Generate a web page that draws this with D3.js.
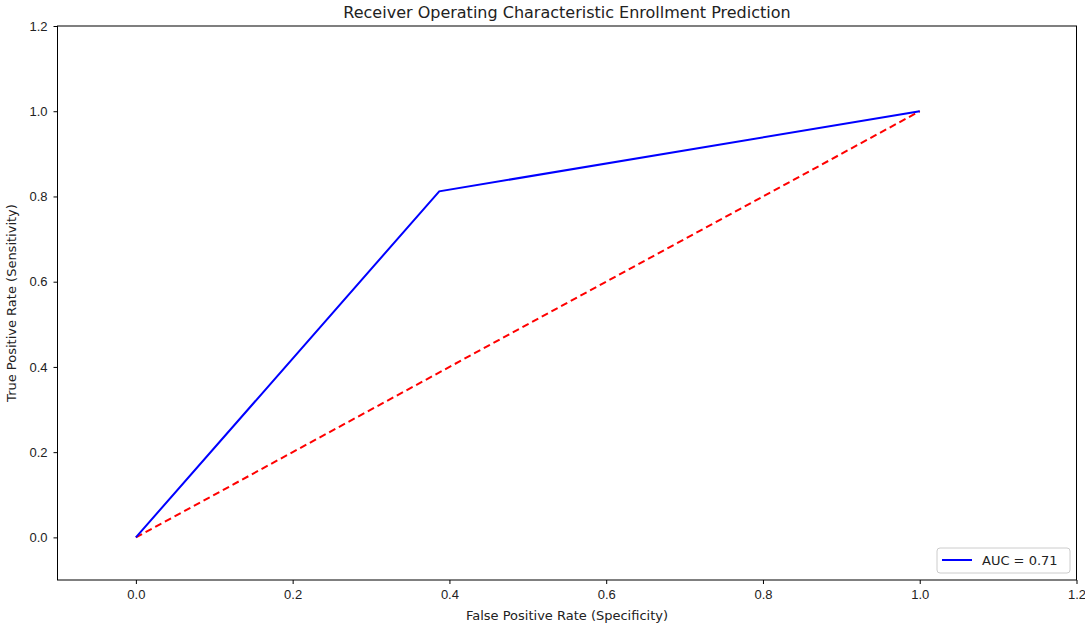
<!DOCTYPE html>
<html lang="en">
  <head>
    <meta charset="UTF-8" />
    <title>Receiver Operating Characteristic Enrollment Prediction</title>
    <script src="https://d3js.org/d3.v7.min.js"></script>
    <style>
      body {
        margin: 0;
        background: #fff;
        font-family: "DejaVu Sans", sans-serif;
      }
      .axis line {
        stroke: #000;
      }
      .axis path.domain {
        display: none;
      }
      .axis text {
        font-size: 13px;
        fill: #222;
      }
    </style>
  </head>
  <body>
    <script>
      // ROC curve points
      var fpr = [0.0, 0.387, 1.0];
      var tpr = [0.0, 0.812, 1.0];
      // chance line
      var chanceX = [0.0, 1.0];
      var chanceY = [0.0, 1.0];
      var aucLabel = "AUC = 0.71";
      var ticks = [0.0, 0.2, 0.4, 0.6, 0.8, 1.0, 1.2];

      var width = 1085,
        height = 628;
      var margin = { top: 26, right: 8.5, bottom: 48, left: 57.5 };

      var svg = d3
        .select("body")
        .append("svg")
        .attr("width", width)
        .attr("height", height);

      var x = d3
        .scaleLinear()
        .domain([-0.1, 1.2])
        .range([margin.left, width - margin.right]);
      var y = d3
        .scaleLinear()
        .domain([-0.1, 1.2])
        .range([height - margin.bottom, margin.top]);

      svg
        .append("g")
        .attr("class", "axis")
        .attr("transform", "translate(0," + (height - margin.bottom) + ")")
        .call(
          d3.axisBottom(x).tickValues(ticks).tickSizeOuter(0).tickSize(4).tickPadding(6)
            .tickFormat(d3.format(".1f"))
        );

      svg
        .append("g")
        .attr("class", "axis")
        .attr("transform", "translate(" + margin.left + ",0)")
        .call(
          d3.axisLeft(y).tickValues(ticks).tickSizeOuter(0).tickSize(4).tickPadding(6)
            .tickFormat(d3.format(".1f"))
        );

      // frame
      svg
        .append("rect")
        .attr("x", margin.left)
        .attr("y", margin.top)
        .attr("width", width - margin.left - margin.right)
        .attr("height", height - margin.top - margin.bottom)
        .attr("fill", "none")
        .attr("stroke", "#000")
        .attr("stroke-width", 1);

      var line = d3
        .line()
        .x(function (d) { return x(d[0]); })
        .y(function (d) { return y(d[1]); });

      svg
        .append("path")
        .attr("d", line(d3.zip(chanceX, chanceY)))
        .attr("fill", "none")
        .attr("stroke", "red")
        .attr("stroke-width", 2)
        .attr("stroke-dasharray", "7,4");

      svg
        .append("path")
        .attr("d", line(d3.zip(fpr, tpr)))
        .attr("fill", "none")
        .attr("stroke", "blue")
        .attr("stroke-width", 2);

      // title and labels
      svg
        .append("text")
        .attr("x", (margin.left + width - margin.right) / 2)
        .attr("y", 18)
        .attr("text-anchor", "middle")
        .style("font-size", "16px")
        .style("fill", "#222")
        .text("Receiver Operating Characteristic Enrollment Prediction");

      svg
        .append("text")
        .attr("x", (margin.left + width - margin.right) / 2)
        .attr("y", 620)
        .attr("text-anchor", "middle")
        .style("font-size", "13px")
        .style("fill", "#222")
        .text("False Positive Rate (Specificity)");

      svg
        .append("text")
        .attr("transform", "translate(16," + (margin.top + height - margin.bottom) / 2 + ") rotate(-90)")
        .attr("text-anchor", "middle")
        .style("font-size", "13px")
        .style("fill", "#222")
        .text("True Positive Rate (Sensitivity)");

      // legend
      var lg = svg.append("g").attr("transform", "translate(937,548)");
      lg.append("rect")
        .attr("width", 133)
        .attr("height", 25)
        .attr("rx", 3)
        .attr("fill", "#fff")
        .attr("stroke", "#ccc");
      lg.append("line")
        .attr("x1", 5)
        .attr("x2", 35)
        .attr("y1", 12)
        .attr("y2", 12)
        .attr("stroke", "blue")
        .attr("stroke-width", 2);
      lg.append("text")
        .attr("x", 45)
        .attr("y", 17)
        .style("font-size", "13px")
        .style("fill", "#222")
        .text(aucLabel);
    </script>
  </body>
</html>
